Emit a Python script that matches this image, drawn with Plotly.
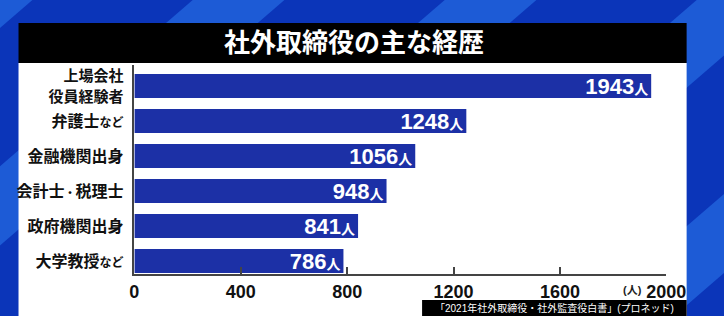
import plotly.graph_objects as go

categories = ["上場会社<br>役員経験者", "弁護士など", "金融機関出身", "会計士・税理士", "政府機関出身", "大学教授など"]
tick_labels = [
    "<span style='font-size:15px'>上場会社<br>役員経験者</span>",
    "弁護士<span style='font-size:12px'>など</span>",
    "金融機関出身",
    "会計士<span style='font-size:11px'>・</span>税理士",
    "政府機関出身",
    "大学教授<span style='font-size:12px'>など</span>",
]
values = [1943, 1248, 1056, 948, 841, 786]
x_ticks = [0, 400, 800, 1200, 1600, 2000]
title_text = "社外取締役の主な経歴"
source_text = "「2021年社外取締役・社外監査役白書」(プロネッド)"
unit_text = "(人)"

W, H = 724, 316
def px(x):
    return x / W
def py(y):
    return 1 - y / H

FONT = "Liberation Sans, Noto Sans CJK JP, sans-serif"
BG = "#0b35b9"
STRIPE = "#1d5bd6"
BAR = "#1c30a6"

bar_text = [f"{v}<span style='font-size:14px'>人</span>" for v in values]

fig = go.Figure()
fig.add_trace(go.Bar(
    x=values, y=categories, orientation="h",
    marker=dict(color=BAR, line=dict(width=0)),
    text=bar_text, textposition="inside", insidetextanchor="end",
    textfont=dict(color="white", size=22, family=FONT, weight="bold"),
    constraintext="none", cliponaxis=False, hoverinfo="skip",
))

shapes = []
# diagonal background stripes
for k in range(-2, 5):
    xl = 168 + 261 * k
    xr = xl + 95
    pts = [(xl + 26.4, 0), (xr + 26.4, 0), (xr - 352.8, H), (xl - 352.8, H)]
    path = "M " + " L ".join(f"{px(a):.5f},{py(b):.5f}" for a, b in pts) + " Z"
    shapes.append(dict(type="path", path=path, xref="paper", yref="paper",
                       fillcolor=STRIPE, line=dict(width=0), layer="below"))
# white panel
shapes.append(dict(type="rect", xref="paper", yref="paper", x0=px(14), x1=px(706),
                   y0=py(316), y1=py(63), fillcolor="white", line=dict(width=0), layer="below"))
# title bar
shapes.append(dict(type="rect", xref="paper", yref="paper", x0=px(14), x1=px(706),
                   y0=py(63), y1=py(23), fillcolor="black", line=dict(width=0), layer="below"))
# source box
shapes.append(dict(type="rect", xref="paper", yref="paper", x0=px(432), x1=px(706),
                   y0=py(316), y1=py(300), fillcolor="black", line=dict(width=0), layer="above"))

annotations = [
    dict(text=title_text, xref="paper", yref="paper", x=px(361), y=py(43),
         xanchor="center", yanchor="middle", showarrow=False,
         font=dict(color="white", size=26, family=FONT, weight="bold")),
    dict(text=source_text, xref="paper", yref="paper", x=px(569), y=py(308),
         xanchor="center", yanchor="middle", showarrow=False,
         font=dict(color="white", size=10, family=FONT)),
    dict(text=unit_text, xref="x", yref="paper", x=2000, y=py(290),
         xanchor="right", yanchor="middle", xshift=-22, showarrow=False,
         font=dict(color="#222", size=11, family=FONT, weight="bold")),
]

fig.update_layout(
    width=W, height=H,
    margin=dict(l=0, r=0, t=0, b=0),
    paper_bgcolor=BG, plot_bgcolor="white",
    showlegend=False, bargap=0.31,
    shapes=shapes, annotations=annotations,
    xaxis=dict(domain=[px(134), px(685)], range=[0, 2000], tickvals=x_ticks,
               ticktext=[str(t) for t in x_ticks],
               showgrid=False, zeroline=False, showline=True, linecolor="#444", linewidth=2,
               ticks="inside", ticklen=7, tickwidth=1.5, tickcolor="#444",
               tickfont=dict(size=18, color="#111", family=FONT, weight="bold"),
               fixedrange=True),
    yaxis=dict(domain=[py(274), py(65)], range=[5.37, -0.6], type="category",
               tickvals=categories, ticktext=tick_labels,
               showgrid=False, zeroline=False, showline=True, linecolor="#444", linewidth=1.5,
               ticks="", ticklabelstandoff=6,
               tickfont=dict(size=16, color="#111", family=FONT, weight="bold"),
               fixedrange=True),
)

fig.write_html("out.html")
